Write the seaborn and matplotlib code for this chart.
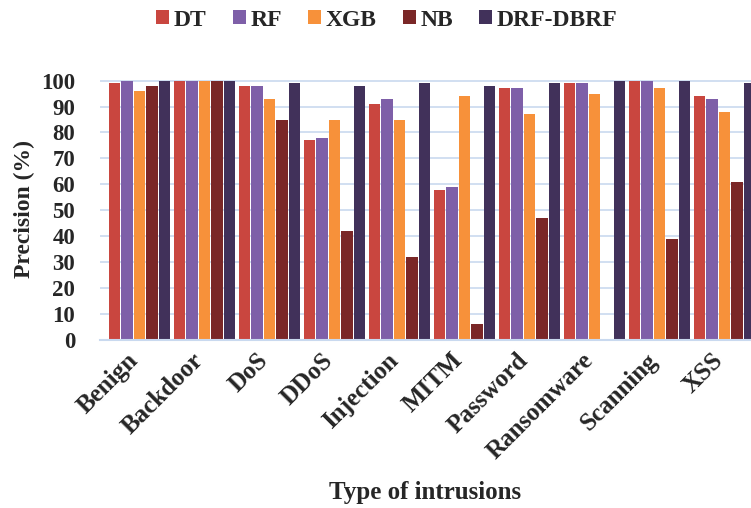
import matplotlib
matplotlib.use("Agg")
import matplotlib.pyplot as plt
from matplotlib.transforms import ScaledTranslation
import seaborn as sns
import pandas as pd

categories = ["Benign", "Backdoor", "DoS", "DDoS", "Injection", "MITM",
              "Password", "Ransomware", "Scanning", "XSS"]
models = ["DT", "RF", "XGB", "NB", "DRF-DBRF"]
dt = [99, 100, 98, 77, 91, 58, 97, 99, 100, 94]
rf = [100, 100, 98, 78, 93, 59, 97, 99, 100, 93]
xgb = [96, 100, 93, 85, 85, 94, 87, 95, 97, 88]
nb = [98, 100, 85, 42, 32, 6, 47, 0.5, 39, 61]
drf = [100, 100, 99, 98, 99, 98, 99, 100, 100, 99]
yticks = list(range(0, 101, 10))

series = {"DT": dt, "RF": rf, "XGB": xgb, "NB": nb, "DRF-DBRF": drf}
rows = []
for m in models:
    for c, v in zip(categories, series[m]):
        rows.append({"Category": c, "Model": m, "Precision": v})
df = pd.DataFrame(rows)

sns.set_theme(style="white")
plt.rcParams["font.family"] = ["Liberation Serif", "DejaVu Serif"]
plt.rcParams["font.weight"] = "bold"

palette = ["#C9463F", "#7E5FA8", "#F7913A", "#7A2727", "#41315A"]

fig = plt.figure(figsize=(7.51, 5.08), dpi=100)
ax = fig.add_axes([100 / 751, 1 - 340 / 508, 651 / 751, (340 - 78) / 508])

sns.barplot(data=df, x="Category", y="Precision", hue="Model",
            hue_order=models, order=categories, palette=palette,
            width=0.96, gap=0.08, ax=ax, saturation=1, legend=True,
            edgecolor="none")

ax.set_ylim(0, 101)
ax.set_xlim(-0.608, 9.41)
ax.set_yticks(yticks)
ax.set_yticklabels([str(t) for t in yticks], fontsize=16.5, fontweight="bold")
ax.yaxis.grid(True, color="#C9D9EF", linewidth=1.2)
ax.set_axisbelow(True)
for s in ["top", "right", "left"]:
    ax.spines[s].set_visible(False)
ax.spines["bottom"].set_color("#C9D9EF")
ax.spines["bottom"].set_linewidth(1.5)
ax.tick_params(axis="y", length=0, pad=18)
ax.tick_params(axis="x", length=0, pad=12)
ax.set_xticks(range(len(categories)))
ax.set_xticklabels(categories, rotation=45, ha="right", va="center",
                   rotation_mode="anchor", fontsize=18, fontweight="bold")
shift = ScaledTranslation(-5 / 100, 0, fig.dpi_scale_trans)
for lab in ax.get_xticklabels():
    lab.set_transform(lab.get_transform() + shift)
ax.set_ylabel("Precision (%)", fontsize=17, fontweight="bold")
ax.yaxis.set_label_coords(-(100 - 35) / 651, 0.5)
ax.set_xlabel("")
fig.text(425 / 751, 1 - 493 / 508, "Type of intrusions", ha="center", va="center",
         fontsize=18, fontweight="bold")

handles, labels = ax.get_legend_handles_labels()
ax.get_legend().remove()
fig.legend(handles, labels, loc="center", bbox_to_anchor=(0.515, 1 - 20 / 508),
           ncol=5, frameon=False, handlelength=0.55, handleheight=0.55,
           handletextpad=0.2, columnspacing=1.1,
           prop={"family": "Liberation Serif", "weight": "bold", "size": 17})

fig.savefig("out.png", dpi=100)
